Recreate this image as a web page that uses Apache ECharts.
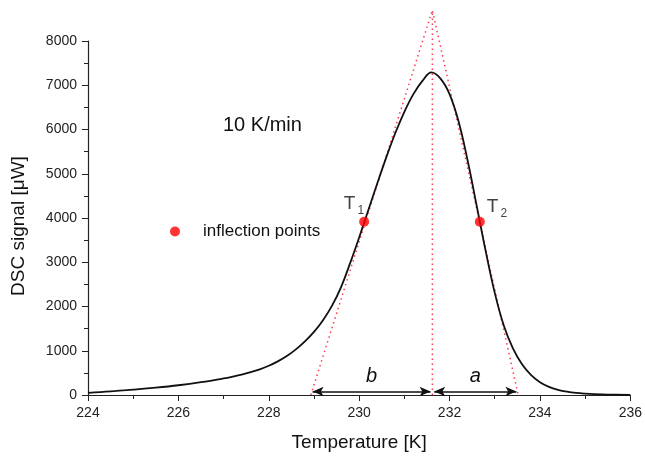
<!DOCTYPE html>
<html>
<head>
<meta charset="utf-8">
<script src="https://cdn.jsdelivr.net/npm/echarts@6/dist/echarts.min.js"></script>
<style>
  html, body { margin: 0; padding: 0; background: #fff; }
  #chart { width: 645px; height: 457px; }
</style>
</head>
<body>
<div id="chart"></div>
<script>
// DSC melting peak measured at 10 K/min
const temperature = [224.0, 224.5, 225.0, 225.5, 226.0, 226.5, 227.0, 227.2, 227.4, 227.6, 227.8, 228.0, 228.2, 228.4, 228.6, 228.8, 229.0, 229.2, 229.4, 229.6, 229.8, 230.0, 230.2, 230.4, 230.6, 230.8, 231.0, 231.2, 231.4, 231.6, 231.8, 232.0, 232.2, 232.4, 232.6, 232.8, 233.0, 233.2, 233.4, 233.6, 233.8, 234.0, 234.2, 234.4, 234.6, 234.8, 235.0, 235.2, 235.5, 236.0];
const signal = [50, 80, 120, 165, 220, 290, 375, 415, 460, 515, 580, 660, 760, 880, 1030, 1210, 1425, 1690, 2020, 2440, 2980, 3560, 4170, 4780, 5370, 5920, 6400, 6800, 7100, 7290, 7150, 6800, 6180, 5300, 4280, 3250, 2310, 1570, 1060, 700, 455, 290, 185, 118, 75, 47, 30, 19, 9, 2];

// inflection points T1, T2
const inflectionT = [230.11, 232.67];
const inflectionY = [3915, 3915];
const inflectionNames = ['1', '2'];

// tangents through the inflection points, meeting above the peak
const tangentBaseLeft = 228.93;
const tangentBaseRight = 233.52;
const tangentApexT = 231.62;
const tangentApexY = 8700;

// width arrows b and a
const arrowY = 80;
const arrowB = [228.97, 231.58];
const arrowA = [231.66, 233.48];

// axis ticks
const xMin = 224, xMax = 236, xStep = 2;
const yMin = 0, yMax = 8000, yStep = 1000;

const font = 'Liberation Sans, Arial, sans-serif';
const red = '#ff3b4e';
const dotted = { color: red, width: 1.5, type: [1.5, 3.5] };

const chart = echarts.init(document.getElementById('chart'));
chart.setOption({
  animation: false,
  backgroundColor: '#fff',
  textStyle: { fontFamily: font },
  grid: { left: 88, right: 13, top: 41, bottom: 61 },
  title: {
    text: '10 K/min',
    left: 218, top: 110,
    textStyle: { fontFamily: font, fontSize: 20, fontWeight: 'normal', color: '#111' }
  },
  legend: {
    left: 165, top: 218,
    itemWidth: 46, itemHeight: 10,
    data: [{ name: 'inflection points', icon: 'circle' }],
    textStyle: { fontFamily: font, fontSize: 17, color: '#111' }
  },
  xAxis: {
    type: 'value', min: xMin, max: xMax, interval: xStep,
    name: 'Temperature [K]', nameLocation: 'middle', nameGap: 38,
    nameTextStyle: { fontFamily: font, fontSize: 19, color: '#111' },
    axisLine: { onZero: false, lineStyle: { color: '#222', width: 1.2 } },
    axisTick: { show: true, length: 6, inside: false, lineStyle: { color: '#222' } },
    minorTick: { show: true, splitNumber: 2, length: 4, lineStyle: { color: '#222' } },
    axisLabel: { fontFamily: font, fontSize: 14, color: '#222', margin: 11 },
    splitLine: { show: false }
  },
  yAxis: {
    type: 'value', min: yMin, max: yMax, interval: yStep,
    name: 'DSC signal [\u03bcW]', nameLocation: 'middle', nameGap: 60, nameRotate: 90,
    nameTextStyle: { fontFamily: font, fontSize: 19, color: '#111', padding: [0, 16, 0, 0] },
    axisLine: { show: true, lineStyle: { color: '#222', width: 1.2 } },
    axisTick: { show: true, length: 6, inside: false, lineStyle: { color: '#222' } },
    minorTick: { show: true, splitNumber: 2, length: 4, lineStyle: { color: '#222' } },
    axisLabel: { fontFamily: font, fontSize: 14, color: '#222', margin: 11, formatter: v => String(v) },
    splitLine: { show: false }
  },
  series: [
    {
      name: 'tangents', type: 'line', clip: false, silent: true, symbol: 'none',
      lineStyle: dotted, z: 1,
      data: [[tangentBaseLeft, 0], [tangentApexT, tangentApexY], [tangentBaseRight, 0]]
    },
    {
      name: 'peak', type: 'line', clip: false, silent: true, symbol: 'none',
      lineStyle: dotted, z: 1,
      data: [[tangentApexT, 0], [tangentApexT, tangentApexY]]
    },
    {
      name: 'DSC', type: 'line', smooth: 0.4, symbol: 'none', z: 3,
      lineStyle: { color: '#111', width: 1.8 },
      data: temperature.map((t, i) => [t, signal[i]])
    },
    {
      name: 'widths', type: 'line', symbol: 'none', z: 2,
      lineStyle: { opacity: 0 },
      data: [],
      markLine: {
        silent: true, symbol: ['arrow', 'arrow'], symbolSize: [7, 11],
        lineStyle: { color: '#111', width: 1.5, type: 'solid' },
        label: {
          show: true, position: 'middle', distance: 5,
          fontFamily: font, fontSize: 20, fontStyle: 'italic', color: '#111',
          formatter: p => p.name
        },
        data: [
          [{ name: 'b', coord: [arrowB[0], arrowY] }, { coord: [arrowB[1], arrowY] }],
          [{ name: 'a', coord: [arrowA[0], arrowY] }, { coord: [arrowA[1], arrowY] }]
        ]
      }
    },
    {
      name: 'inflection points', type: 'scatter', symbol: 'circle', symbolSize: 10, z: 4,
      itemStyle: { color: '#ff0000' },
      data: inflectionT.map((t, i) => ({
        value: [t, inflectionY[i]],
        label: {
          show: true,
          position: i === 0 ? 'left' : 'right',
          offset: i === 0 ? [10, -18] : [-3, -15],
          formatter: '{t|T}{s|' + inflectionNames[i] + '}',
          rich: {
            t: { fontFamily: font, fontSize: 19, color: '#111' },
            s: { fontFamily: font, fontSize: 12, color: '#111', padding: [13, 0, 0, 2] }
          }
        }
      }))
    }
  ]
});
</script>
</body>
</html>
